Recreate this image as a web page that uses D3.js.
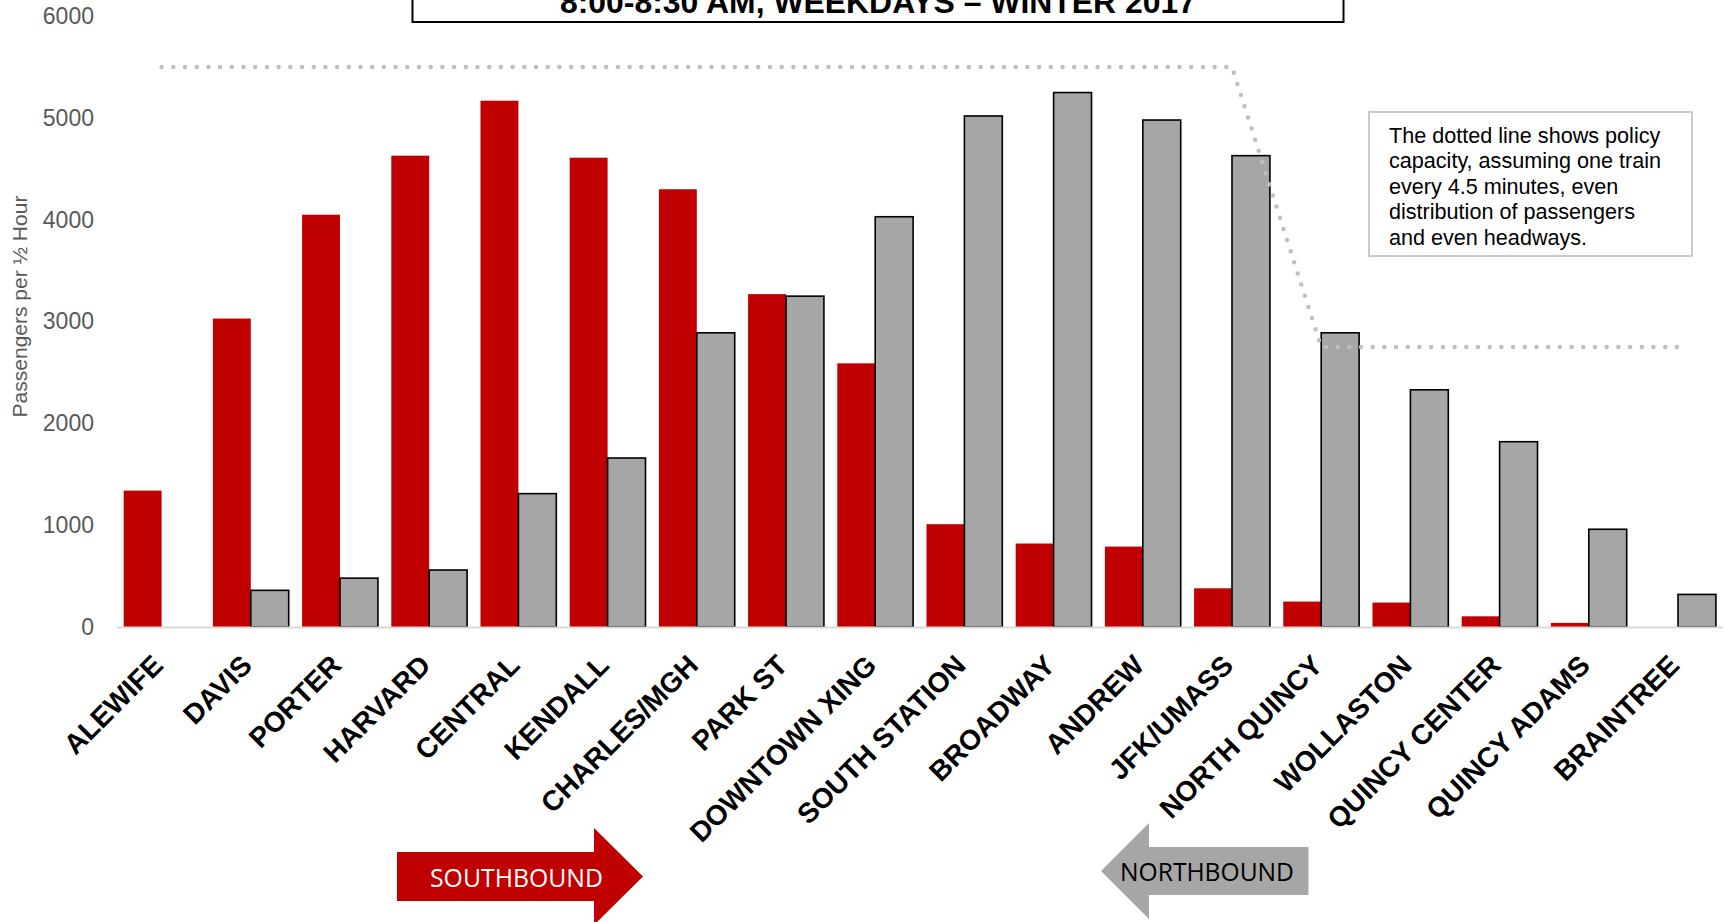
<!DOCTYPE html>
<html>
<head>
<meta charset="utf-8">
<script src="https://cdn.jsdelivr.net/npm/d3@7"></script>
<style>
  html, body { margin: 0; padding: 0; background: #ffffff; }
  svg { display: block; }
</style>
</head>
<body>
<svg id="chart" width="1725" height="922"></svg>
<script>
const stations = ["ALEWIFE","DAVIS","PORTER","HARVARD","CENTRAL","KENDALL","CHARLES/MGH","PARK ST","DOWNTOWN XING","SOUTH STATION","BROADWAY","ANDREW","JFK/UMASS","NORTH QUINCY","WOLLASTON","QUINCY CENTER","QUINCY ADAMS","BRAINTREE"];
const southbound = [1340,3030,4050,4630,5170,4610,4300,3270,2590,1010,820,790,380,250,240,105,40,0];
const northbound = [0,360,480,560,1310,1660,2890,3250,4030,5020,5250,4980,4630,2890,2330,1820,960,320];
const capacity = [5500,5500,5500,5500,5500,5500,5500,5500,5500,5500,5500,5500,5500,2750,2750,2750,2750,2750];
const yTicks = [0,1000,2000,3000,4000,5000,6000];
const titleText = "8:00-8:30 AM, WEEKDAYS \u2013 WINTER 2017";
const yAxisTitle = "Passengers per \u00BD Hour";
const noteLines = ["The dotted line shows policy","capacity, assuming one train","every 4.5 minutes, even","distribution of passengers","and even headways."];
const southLabel = "SOUTHBOUND";
const northLabel = "NORTHBOUND";

const svg = d3.select("#chart");
const FONT = "'Liberation Sans', Arial, Helvetica, sans-serif";
const RED = "#c00000", GRAY = "#a6a6a6";

const x = d3.scaleBand().domain(stations).range([117, 1722.6]).paddingInner(0.15).paddingOuter(0.075);
const y = d3.scaleLinear().domain([0, 6000]).range([627, 16.2]);
const bw = x.bandwidth() / 2;

// Title box (partially cut off at top, as in the original)
svg.append("rect").attr("x", 412.5).attr("y", -60).attr("width", 931).attr("height", 82)
  .attr("fill", "#fff").attr("stroke", "#000").attr("stroke-width", 2);
svg.append("text").attr("x", 878).attr("y", 12.5).attr("text-anchor", "middle")
  .attr("font-family", FONT).attr("font-weight", "bold").attr("font-size", 32)
  .attr("textLength", 636).attr("lengthAdjust", "spacingAndGlyphs")
  .text(titleText);

// Y axis
const yAxis = d3.axisLeft(y).tickValues(yTicks).tickSize(0).tickPadding(23).tickFormat(d3.format("d"));
const gy = svg.append("g").attr("transform", "translate(117,0)").call(yAxis);
gy.select(".domain").remove();
gy.selectAll("text").attr("font-family", FONT).attr("font-size", 23).attr("fill", "#595959");

svg.append("text")
  .attr("transform", "translate(27,306.5) rotate(-90)")
  .attr("text-anchor", "middle")
  .attr("font-family", FONT).attr("font-size", 21).attr("fill", "#595959")
  .text(yAxisTitle);

// Bars
svg.append("g").selectAll("rect").data(stations).join("rect")
  .attr("x", (d) => x(d))
  .attr("y", (d, i) => y(southbound[i]))
  .attr("width", bw)
  .attr("height", (d, i) => y(0) - y(southbound[i]))
  .attr("fill", RED);

svg.append("g").selectAll("rect").data(stations.filter((d, i) => northbound[i] > 0)).join("rect")
  .attr("x", (d) => x(d) + bw)
  .attr("y", (d) => y(northbound[stations.indexOf(d)]))
  .attr("width", bw)
  .attr("height", (d) => y(0) - y(northbound[stations.indexOf(d)]))
  .attr("fill", GRAY).attr("stroke", "#000").attr("stroke-width", 1.6);

// Baseline
svg.append("line").attr("x1", 117).attr("x2", 1722.6).attr("y1", y(0) + 0.5).attr("y2", y(0) + 0.5)
  .attr("stroke", "#d9d9d9").attr("stroke-width", 2);

// Capacity dotted line
const line = d3.line().x((d, i) => x(stations[i]) + x.bandwidth() / 2).y((d) => y(d));
svg.append("path").attr("d", line(capacity)).attr("fill", "none")
  .attr("stroke", "#bfbfbf").attr("stroke-width", 4.5).attr("stroke-linecap", "round")
  .attr("stroke-dasharray", "0 11.7");

// X axis labels
const xAxis = d3.axisBottom(x).tickSize(0);
const gx = svg.append("g").attr("transform", `translate(0,${y(0)})`).call(xAxis);
gx.select(".domain").remove();
gx.selectAll("text")
  .attr("x", 0).attr("y", 0).attr("dy", 0)
  .attr("transform", "translate(3,40) rotate(-45)")
  .attr("text-anchor", "end")
  .attr("font-family", FONT).attr("font-weight", "bold").attr("font-size", 28).attr("fill", "#000");

// Annotation box
svg.append("rect").attr("x", 1369).attr("y", 112).attr("width", 323).attr("height", 144)
  .attr("fill", "#fff").attr("stroke", "#bfbfbf").attr("stroke-width", 1.6);
svg.append("g").selectAll("text").data(noteLines).join("text")
  .attr("x", 1389).attr("y", (d, i) => 142.5 + i * 25.6)
  .attr("font-family", FONT).attr("font-size", 21.6).attr("fill", "#000")
  .text((d) => d);

// Direction arrows
svg.append("polygon")
  .attr("points", "397,852 594,852 594,828 643,876.5 594,925 594,901 397,901")
  .attr("fill", RED);
svg.append("text").attr("x", 516.5).attr("y", 886.5).attr("text-anchor", "middle")
  .attr("font-family", "'Open Sans', 'Noto Sans', sans-serif").attr("font-size", 26).attr("fill", "#fff")
  .attr("textLength", 173).attr("lengthAdjust", "spacingAndGlyphs")
  .text(southLabel);

svg.append("polygon")
  .attr("points", "1308.5,847 1149,847 1149,823 1101,871 1149,919 1149,895 1308.5,895")
  .attr("fill", GRAY);
svg.append("text").attr("x", 1207).attr("y", 880.5).attr("text-anchor", "middle")
  .attr("font-family", "'Open Sans', 'Noto Sans', sans-serif").attr("font-size", 26).attr("fill", "#000")
  .attr("textLength", 174).attr("lengthAdjust", "spacingAndGlyphs")
  .text(northLabel);
</script>
</body>
</html>
